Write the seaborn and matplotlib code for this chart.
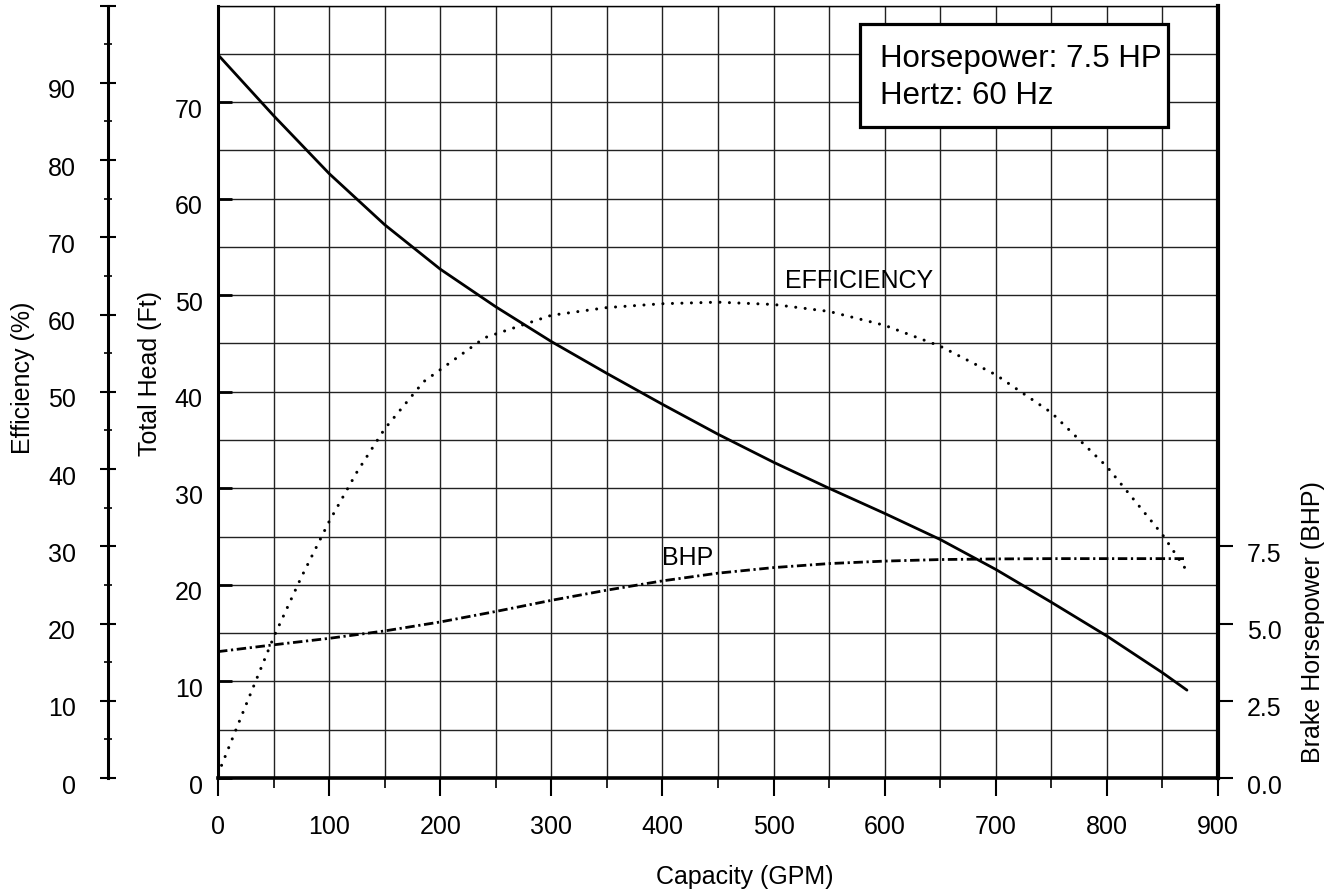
import matplotlib
matplotlib.use('Agg')

import matplotlib.pyplot as plt
import matplotlib.transforms as mtrans
import seaborn as sns
from matplotlib.patches import Rectangle
from matplotlib.ticker import MultipleLocator, FuncFormatter

# pump curve readings (capacity in GPM)
gpm = [0, 50, 100, 150, 200, 250, 300, 350, 400, 450, 500,
       550, 600, 650, 700, 750, 800, 850, 872]
head_ft = [74.9, 68.6, 62.6, 57.3, 52.7, 48.8, 45.2, 41.9, 38.7, 35.6, 32.7,
           30.0, 27.4, 24.7, 21.6, 18.2, 14.7, 10.9, 9.1]
bhp = [4.09, 4.31, 4.52, 4.76, 5.05, 5.39, 5.75, 6.08, 6.38, 6.63, 6.81,
       6.94, 7.02, 7.07, 7.09, 7.1, 7.1, 7.1, 7.1]

eff_gpm = [0, 25, 50, 75, 100, 125, 150, 185, 240, 300, 350, 400, 450,
           500, 550, 600, 650, 700, 750, 800, 850, 872]
eff_pct = [0.5, 9.4, 18.2, 26.0, 33.2, 39.6, 45.2, 51.3, 57.0, 59.9, 60.9,
           61.4, 61.6, 61.3, 60.4, 58.6, 55.9, 52.2, 47.3, 40.3, 31.5, 26.8]

x_ticks = [0, 100, 200, 300, 400, 500, 600, 700, 800, 900]
head_ticks = [0, 10, 20, 30, 40, 50, 60, 70]
eff_ticks = [0, 10, 20, 30, 40, 50, 60, 70, 80, 90, 100]
bhp_ticks = [0, 2.5, 5.0, 7.5]

box_lines = ["Horsepower: 7.5 HP", "Hertz: 60 Hz"]

sns.set_theme(style="white", rc={
    'text.color': 'black', 'axes.labelcolor': 'black',
    'xtick.color': 'black', 'ytick.color': 'black',
    'axes.edgecolor': 'black',
})
plt.rcParams['font.family'] = ['Liberation Sans', 'DejaVu Sans']

FS = 18

fig = plt.figure(figsize=(13.35, 8.95), dpi=100)
ax = fig.add_axes([0.1633, 0.1296, 0.7491, 0.8631])
ax_eff = ax.twinx()
ax_bhp = ax.twinx()

# curves
sns.lineplot(x=gpm, y=head_ft, ax=ax, color='black', linewidth=2.0,
             solid_joinstyle='round', sort=False, errorbar=None, zorder=5)
sns.lineplot(x=eff_gpm, y=eff_pct, ax=ax_eff, color='black', linewidth=2.2,
             linestyle=(0, (0.01, 3.1)), dash_capstyle='round',
             sort=False, errorbar=None)
sns.lineplot(x=gpm, y=bhp, ax=ax_bhp, color='black', linewidth=2.0,
             linestyle=(0, (3.4, 1.3, 0.8, 1.3)),
             sort=False, errorbar=None)

# main axis: capacity vs head
ax.set_xlim(0, 900)
ax.set_ylim(0, 80)
ax.set_xticks(x_ticks)
ax.xaxis.set_minor_locator(MultipleLocator(50))
ax.set_yticks(head_ticks)
ax.yaxis.set_minor_locator(MultipleLocator(5))
ax.grid(True, which='both', color='#222222', linewidth=1.0)
ax.set_axisbelow(True)
ax.tick_params(axis='x', which='major', direction='out', length=13, width=1.5,
               labelsize=FS, pad=13, bottom=True)
ax.tick_params(axis='x', which='minor', direction='out', length=7, width=1.2,
               bottom=True)
ax.tick_params(axis='y', which='major', direction='in', length=10, width=2.0,
               labelsize=FS, pad=11, left=True)
ax.tick_params(axis='y', which='minor', length=0)
ax.spines['left'].set_linewidth(2.2)
ax.spines['bottom'].set_linewidth(2.6)
ax.spines['top'].set_linewidth(1.0)
ax.spines['right'].set_visible(False)
ax.set_xlabel("Capacity (GPM)", fontsize=FS, va='center')
ax.xaxis.set_label_coords(0.527, -0.127)
ax.set_ylabel("Total Head (Ft)", fontsize=FS, va='center')
ax.yaxis.set_label_coords(-0.068, 0.525)

# efficiency axis on the far left
ax_eff.set_ylim(0, 100)
ax_eff.set_yticks(eff_ticks)
ax_eff.yaxis.set_major_formatter(FuncFormatter(lambda v, p: '' if v >= 100 else f'{v:.0f}'))
ax_eff.yaxis.set_minor_locator(MultipleLocator(5))
ax_eff.yaxis.set_ticks_position('left')
ax_eff.yaxis.set_label_position('left')
for side in ['top', 'bottom', 'right']:
    ax_eff.spines[side].set_visible(False)
ax_eff.spines['left'].set_visible(True)
ax_eff.spines['left'].set_position(('axes', -0.11))
ax_eff.spines['left'].set_linewidth(2.2)
ax_eff.tick_params(axis='y', which='major', direction='inout', length=12,
                   width=1.5, labelsize=FS, pad=17)
ax_eff.tick_params(axis='y', which='minor', direction='inout', length=6,
                   width=1.2)
ax_eff.set_ylabel("Efficiency (%)", fontsize=FS, va='center')
ax_eff.yaxis.set_label_coords(-0.195, 0.52)

# brake horsepower axis on the right
ax_bhp.set_ylim(0, 25)
ax_bhp.set_yticks(bhp_ticks)
ax_bhp.yaxis.set_major_formatter(FuncFormatter(lambda v, p: f'{v:.1f}'))
for side in ['top', 'bottom', 'left']:
    ax_bhp.spines[side].set_visible(False)
ax_bhp.spines['right'].set_linewidth(3.0)
ax_bhp.tick_params(axis='y', which='major', direction='out', length=11,
                   width=1.5, labelsize=FS, pad=10)
ax_bhp.set_ylabel("Brake Horsepower (BHP)", fontsize=FS, va='center')
ax_bhp.yaxis.set_label_coords(1.095, 0.203)

# y tick labels sit a little low in the original
shift = mtrans.ScaledTranslation(0, -0.05, fig.dpi_scale_trans)
for a in (ax, ax_eff, ax_bhp):
    for lbl in a.get_yticklabels():
        lbl.set_transform(lbl.get_transform() + shift)

# curve labels
ax.text(510, 50.9, "EFFICIENCY", fontsize=FS, va='baseline', zorder=6)
ax.text(400, 22.2, "BHP", fontsize=FS, va='baseline', zorder=6)

# info box
ax.add_patch(Rectangle((0.642, 0.8427), 0.308, 0.1333, transform=ax.transAxes,
                       facecolor='white', edgecolor='black', linewidth=2.3,
                       zorder=7))
ax.text(0.662, 0.9217, box_lines[0], transform=ax.transAxes, fontsize=22.5,
        va='baseline', zorder=8)
ax.text(0.662, 0.8738, box_lines[1], transform=ax.transAxes, fontsize=22.5,
        va='baseline', zorder=8)

fig.savefig("out.png", dpi=100)
plt.close(fig)
